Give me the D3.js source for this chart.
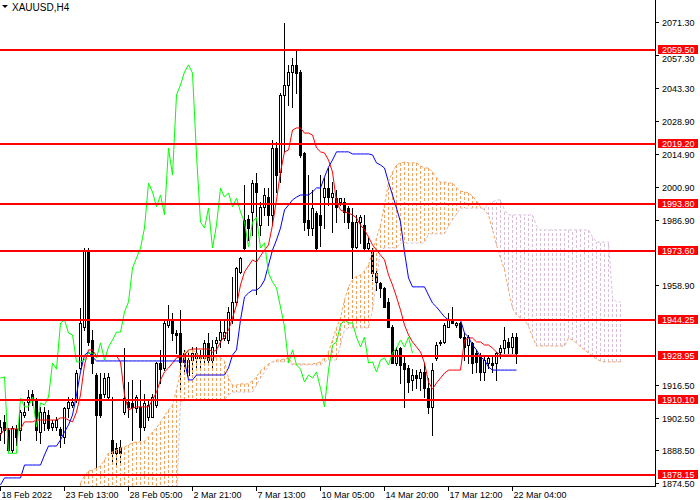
<!DOCTYPE html>
<html><head><meta charset="utf-8">
<script src="https://cdn.jsdelivr.net/npm/d3@7"></script>
<style>
body{margin:0;background:#fff}
svg{display:block}
text{font-family:"Liberation Sans",Arial,sans-serif}
</style>
</head><body>
<svg id="c" width="700" height="500"></svg>
<script>
// ---------------- DATA ----------------
const symbolTitle = "XAUUSD,H4";

const timeTickIndex = [0,16,32,48,64,80,96,112,128];
const timeTickLabels = ["18 Feb 2022","23 Feb 13:00","28 Feb 05:00","2 Mar 21:00","7 Mar 13:00","10 Mar 05:00","14 Mar 20:00","17 Mar 12:00","22 Mar 04:00"];

// visible price scale labels (those fully hidden behind level tags are omitted)
const priceTicks = [2071.30,2057.30,2043.30,2028.90,2014.90,2000.90,1986.90,1958.90,1916.50,1902.50,1888.50,1874.50];

const levels = [2059.50,2019.20,1993.80,1973.60,1944.25,1928.95,1910.10,1878.15];

const open = [1896.0,1900.7,1897.2,1888.7,1897.6,1897.2,1903.6,1909.2,1912.4,1910.0,
 1896.4,1900.2,1903.6,1898.5,1898.5,1897.6,1894.2,1906.6,1907.9,1910.0,
 1923.7,1941.2,1974.0,1935.6,1920.7,1912.4,1912.4,1911.3,1893.0,1889.6,
 1890.0,1904.9,1909.2,1908.8,1906.6,1907.1,1898.5,1902.8,1902.8,1907.9,
 1925.8,1923.7,1942.0,1944.2,1938.6,1938.6,1930.1,1920.7,1927.1,1928.0,
 1929.2,1928.0,1934.4,1927.1,1934.4,1935.6,1936.5,1935.6,1944.2,1951.9,
 1964.7,1986.8,1987.3,1990.3,2002.6,1984.7,1992.4,1996.6,1989.0,2017.5,
 2007.3,2040.2,2044.4,2050.0,2053.0,2050.0,2015.4,1986.8,1983.4,1989.8,
 1989.0,1996.6,2000.5,1996.6,1996.2,1994.5,1994.5,1991.9,1985.9,1975.3,
 1985.9,1984.7,1974.9,1974.0,1964.2,1960.0,1957.8,1951.9,1941.2,1925.8,
 1932.2,1925.8,1923.7,1918.6,1920.7,1919.4,1922.0,1915.0,1907.1,1928.0,
 1934.4,1934.8,1941.2,1944.2,1942.0,1942.9,1936.9,1933.5,1934.4,1930.1,
 1929.2,1922.0,1925.8,1925.8,1925.8,1930.5,1932.2,1934.8,1932.7,1936.9];

const high = [1901.5,1903.6,1898.0,1898.9,1899.4,1905.8,1909.2,1914.3,1914.3,1910.9,
 1907.1,1907.1,1905.8,1901.5,1902.8,1898.5,1907.1,1911.3,1910.9,1922.8,
 1949.3,1974.9,1974.9,1939.9,1921.5,1921.5,1921.5,1921.5,1911.3,1891.7,
 1893.0,1932.2,1917.7,1918.6,1912.2,1918.6,1912.4,1910.0,1912.4,1926.3,
 1931.4,1944.2,1950.6,1947.1,1939.9,1948.4,1931.4,1930.1,1932.7,1932.7,
 1931.4,1935.6,1938.6,1935.6,1936.9,1944.2,1944.2,1949.7,1962.5,1966.8,
 1971.0,2001.8,1989.0,2003.9,2006.9,1994.5,2000.5,2000.5,2020.9,2020.1,
 2041.0,2070.9,2053.0,2055.9,2059.4,2050.8,2015.9,2006.0,1999.6,1990.7,
 2006.0,2004.8,2009.0,2003.0,1999.6,1996.2,1996.2,1992.8,1991.9,1989.0,
 1989.0,1989.0,1979.1,1974.9,1965.5,1960.4,1958.3,1953.6,1942.0,1932.7,
 1932.7,1928.4,1925.0,1923.2,1922.8,1923.2,1925.8,1919.4,1925.8,1934.8,
 1935.6,1942.9,1947.1,1949.7,1943.3,1943.3,1938.6,1937.8,1934.8,1931.4,
 1930.1,1928.4,1929.2,1928.4,1930.5,1933.5,1941.2,1936.5,1938.6,1938.6];

const low = [1893.0,1891.7,1887.8,1887.8,1891.0,1893.0,1902.8,1905.8,1907.9,1893.0,
 1891.7,1897.2,1897.2,1897.2,1897.2,1890.0,1891.7,1902.8,1907.1,1909.2,
 1923.2,1939.9,1933.5,1921.5,1880.2,1902.8,1911.3,1910.0,1882.9,1882.9,
 1882.9,1904.1,1902.8,1893.0,1904.9,1893.0,1897.2,1901.5,1902.8,1907.1,
 1917.3,1922.8,1941.2,1935.6,1930.1,1914.3,1921.5,1919.9,1921.5,1923.7,
 1922.8,1925.8,1925.8,1923.7,1930.1,1932.7,1935.6,1934.4,1942.9,1950.6,
 1964.2,1974.0,1978.3,1980.4,1955.4,1980.4,1989.0,1984.7,1984.7,1998.8,
 2003.0,2015.9,2035.9,2035.0,2041.0,2013.7,1982.6,1980.4,1980.4,1974.0,
 1975.8,1983.4,1993.2,1981.7,1985.9,1993.2,1985.9,1983.4,1962.1,1974.9,
 1977.1,1974.0,1974.0,1961.2,1957.0,1954.0,1949.7,1941.2,1925.8,1925.0,
 1917.3,1907.1,1913.4,1914.3,1915.0,1914.5,1911.3,1904.5,1895.1,1927.1,
 1933.5,1934.4,1941.2,1942.9,1941.2,1936.5,1927.1,1925.8,1921.5,1922.0,
 1918.6,1918.6,1923.7,1922.0,1918.6,1928.0,1930.1,1930.1,1930.1,1925.8];

const close = [1898.5,1897.2,1888.7,1898.0,1894.2,1904.9,1904.9,1911.3,1910.9,1897.2,
 1904.9,1904.9,1898.0,1900.2,1901.5,1895.1,1906.6,1909.2,1909.2,1921.5,
 1942.9,1974.0,1934.8,1925.8,1903.6,1903.6,1919.4,1919.9,1887.3,1887.3,
 1887.3,1910.9,1907.1,1907.1,1911.3,1898.5,1908.8,1907.9,1911.3,1925.8,
 1923.2,1942.9,1944.2,1938.6,1937.8,1926.3,1926.3,1927.1,1930.1,1930.1,
 1928.0,1934.4,1927.1,1932.7,1935.6,1939.0,1939.0,1947.6,1951.9,1966.4,
 1970.6,1974.9,1983.4,2002.6,1998.8,1992.4,1997.5,1989.0,2017.5,2006.0,
 2040.2,2044.4,2050.0,2053.0,2049.5,2014.6,1985.9,1983.4,1991.9,1974.9,
 1984.7,2000.5,1996.6,1998.4,1992.4,1996.2,1990.3,1985.9,1975.3,1985.9,
 1988.1,1974.9,1977.1,1964.2,1960.4,1957.8,1949.7,1941.2,1925.8,1931.4,
 1925.0,1923.2,1917.7,1920.7,1919.4,1922.0,1915.0,1907.1,1922.8,1933.5,
 1934.8,1942.0,1944.2,1942.9,1942.9,1936.9,1932.7,1936.9,1925.8,1926.3,
 1922.0,1927.1,1928.0,1925.0,1930.1,1932.2,1935.6,1932.7,1936.9,1930.1];

// Ichimoku: Tenkan-sen (red)
const tenkan = [1895.1,1897.7,1897.7,1897.7,1897.7,1897.7,1900.7,1900.7,1900.7,1901.5,
 1901.5,1901.5,1901.5,1901.5,1901.5,1902.4,1902.4,1901.5,1900.7,1904.9,
 1912.2,1925.0,1931.4,1931.4,1928.8,1928.8,1928.8,1928.8,1928.8,1928.8,
 1926.3,1912.2,1905.8,1906.6,1907.1,1907.1,1907.1,1907.1,1910.0,1913.4,
 1918.6,1922.0,1923.7,1925.8,1928.0,1928.4,1929.2,1931.4,1931.8,1931.8,
 1931.8,1931.8,1931.8,1930.5,1931.4,1934.8,1937.3,1939.9,1945.0,1950.6,
 1959.1,1964.7,1967.2,1969.8,1968.9,1971.5,1974.0,1976.2,1984.7,1995.4,
 2007.3,2015.9,2016.7,2025.2,2026.1,2026.1,2023.9,2023.9,2023.1,2017.6,
 2015.9,2015.4,2012.4,2007.3,1994.5,1991.1,1990.3,1989.8,1989.0,1987.7,
 1984.7,1982.6,1979.6,1976.2,1974.0,1971.9,1969.8,1963.4,1959.1,1954.0,
 1948.4,1942.0,1937.8,1934.8,1932.7,1930.5,1925.8,1917.7,1914.7,1917.3,
 1919.4,1921.5,1922.8,1922.8,1922.8,1922.8,1935.6,1936.5,1936.5,1934.8,
 1934.8,1933.5,1933.5,1932.2,1930.5,1929.2,1929.2,1929.2,1929.2,1929.2];

// Kijun-sen (blue)
const kijun = [1873.8,1876.8,1876.8,1876.8,1876.8,1876.8,1882.3,1882.3,1882.3,1882.3,
 1882.3,1886.6,1890.4,1890.4,1890.4,1893.0,1896.4,1899.4,1903.6,1912.2,
 1922.0,1929.2,1930.5,1928.4,1926.7,1926.7,1926.7,1926.7,1926.7,1926.7,
 1926.7,1926.7,1926.7,1926.7,1926.7,1926.7,1926.7,1926.7,1926.7,1926.7,
 1926.7,1926.7,1926.7,1926.7,1926.7,1926.7,1926.7,1918.6,1918.6,1920.7,
 1920.7,1920.7,1920.7,1920.7,1920.7,1920.7,1920.7,1923.7,1929.2,1931.4,
 1944.2,1954.0,1955.7,1956.9,1956.9,1958.3,1961.2,1967.6,1974.0,1978.3,
 1983.4,1991.1,1993.2,1995.4,1996.6,1997.5,1997.5,1997.5,1998.8,2000.5,
 2000.5,2005.2,2009.4,2012.4,2015.9,2015.9,2015.9,2015.9,2015.0,2015.0,
 2015.0,2015.0,2015.0,2014.6,2011.2,2010.3,2009.0,2003.0,1997.5,1991.9,
 1986.0,1973.2,1962.1,1958.3,1958.3,1958.3,1958.3,1954.8,1951.4,1949.7,
 1947.6,1945.5,1944.2,1944.2,1944.2,1944.2,1938.6,1936.9,1933.5,1931.4,
 1928.4,1927.1,1924.1,1922.8,1922.8,1922.8,1922.8,1922.8,1922.8,1922.8];

// Chikou span (lime), plotted from the first bar
const chikou = [1919.4,1919.9,1887.3,1887.3,1887.3,1910.9,1907.1,1907.1,1911.3,1898.5,
 1908.8,1907.9,1911.3,1925.8,1923.2,1942.9,1944.2,1938.6,1937.8,1926.3,
 1926.3,1927.1,1930.1,1930.1,1928.0,1934.4,1927.1,1932.7,1935.6,1939.0,
 1939.0,1947.6,1951.9,1966.4,1970.6,1974.9,1983.4,2002.6,1998.8,1992.4,
 1997.5,1989.0,2017.5,2006.0,2040.2,2044.4,2050.0,2053.0,2049.5,2014.6,
 1985.9,1983.4,1991.9,1974.9,1984.7,2000.5,1996.6,1998.4,1992.4,1996.2,
 1990.3,1985.9,1975.3,1985.9,1988.1,1974.9,1977.1,1964.2,1960.4,1957.8,
 1949.7,1941.2,1925.8,1931.4,1925.0,1923.2,1917.7,1920.7,1919.4,1922.0,
 1915.0,1907.1,1922.8,1933.5,1934.8,1942.0,1944.2,1942.9,1942.9,1936.9,
 1932.7,1936.9,1925.8,1926.3,1922.0,1927.1,1928.0,1925.0,1930.1,1932.2,
 1935.6,1932.7,1936.9,1930.1];

// Senkou spans, from bar index cloudStart up to 26 bars past the last candle
const cloudStart = 20;
const spanA = [1874.6,1877.6,1879.7,1880.2,1881.0,1881.9,1884.4,1887.4,1887.9,1888.7,
 1889.6,1890.0,1890.9,1891.7,1892.1,1892.1,1892.5,1894.3,1896.4,1898.1,
 1900.7,1903.2,1905.8,1907.9,1914.3,1922.8,1930.5,1931.4,1931.4,1930.1,
 1928.0,1928.0,1928.0,1928.0,1928.0,1928.0,1926.7,1919.4,1916.4,1916.4,
 1916.9,1916.9,1916.9,1918.2,1919.9,1922.4,1924.1,1925.4,1926.3,1927.1,
 1927.1,1927.5,1928.0,1925.4,1925.4,1925.4,1925.4,1925.4,1925.4,1925.8,
 1926.3,1928.0,1930.5,1935.6,1940.8,1945.0,1952.7,1958.3,1961.2,1962.9,
 1963.4,1965.1,1967.6,1973.2,1979.2,1984.7,1993.2,2003.0,2007.3,2010.3,
 2011.2,2011.6,2011.2,2011.2,2011.2,2009.9,2009.0,2009.0,2007.3,2004.8,
 2003.0,2003.0,2002.6,2002.6,2000.5,1999.2,1998.8,1998.4,1997.1,1994.9,
 1992.4,1991.1,1989.0,1982.6,1976.2,1970.6,1965.5,1957.0,1949.3,1946.3,
 1945.0,1944.2,1941.6,1936.9,1933.1,1933.1,1933.1,1933.1,1933.1,1933.1,
 1933.1,1933.1,1936.5,1935.6,1934.4,1932.7,1931.4,1930.1,1928.8,1927.5,
 1926.7,1926.3,1926.3,1926.3,1926.3,1926.3];
const spanB = [1867.4,1867.4,1867.4,1867.4,1867.4,1867.4,1867.4,1867.4,1867.4,1867.4,
 1867.4,1867.4,1867.4,1867.4,1867.4,1867.4,1867.4,1867.4,1867.4,1867.4,
 1867.4,1867.4,1867.4,1867.4,1867.4,1909.2,1910.0,1910.0,1910.0,1910.0,
 1910.0,1910.0,1910.0,1910.0,1910.0,1910.0,1910.0,1912.2,1913.4,1913.4,
 1913.4,1913.4,1913.4,1913.4,1916.4,1919.4,1922.0,1924.5,1926.3,1926.3,
 1926.3,1926.3,1926.3,1925.0,1925.0,1925.0,1925.0,1925.0,1925.0,1925.0,
 1925.0,1926.3,1927.1,1927.1,1927.1,1933.5,1939.9,1940.8,1940.8,1940.8,
 1940.8,1940.8,1940.8,1948.4,1961.2,1974.0,1974.9,1974.9,1974.9,1974.9,
 1977.0,1977.0,1977.0,1977.0,1977.0,1977.0,1977.0,1980.9,1980.9,1980.9,
 1980.9,1980.9,1984.3,1986.8,1989.4,1991.9,1991.9,1991.9,1991.9,1991.9,
 1991.9,1991.9,1993.7,1994.5,1995.4,1995.4,1991.1,1989.0,1989.0,1989.0,
 1989.0,1989.0,1989.0,1989.0,1984.3,1982.6,1982.6,1982.6,1982.6,1982.6,
 1982.6,1982.6,1982.6,1982.6,1982.6,1982.6,1982.6,1982.6,1979.6,1977.4,
 1977.4,1977.4,1977.4,1953.6,1951.9,1951.9];

// ---------------- CHART ----------------
const svg = d3.select("#c");
const plotW = 656, plotH = 486;
const x = d3.scaleLinear().domain([0, 164]).range([0.5, 656.5]);
const y = d3.scaleLinear().domain([1874.5, 2071.3]).range([483.3, 22]);
const py = v => Math.round(y(v));

svg.append("rect").attr("width",700).attr("height",500).attr("fill","#fff");
const defs = svg.append("defs");
defs.append("clipPath").attr("id","clip")
  .append("rect").attr("x",0).attr("y",0).attr("width",plotW-1).attr("height",plotH);

const plot = svg.append("g").attr("clip-path","url(#clip)");

// candles
const cg = plot.append("g").attr("shape-rendering","crispEdges");
open.forEach((o,i)=>{
  const c = close[i], cx = Math.round(x(i)-0.5);
  const hy = py(high[i]), ly = py(low[i]);
  cg.append("rect").attr("x",cx).attr("y",hy).attr("width",1).attr("height",Math.max(1,ly-hy+1)).attr("fill","#000");
  const top = py(Math.max(o,c)), bot = py(Math.min(o,c));
  const h = Math.max(1, bot-top+1);
  cg.append("rect").attr("x",cx-1).attr("y",top).attr("width",3).attr("height",h).attr("fill","#000");
  if (c > o && h > 2) {
    cg.append("rect").attr("x",cx).attr("y",top+1).attr("width",1).attr("height",h-2).attr("fill","#fff");
  }
});

// cloud hatch
const hg = plot.append("g").attr("shape-rendering","crispEdges");
spanA.forEach((a,k)=>{
  const b = spanB[k], j = k + cloudStart;
  hg.append("line")
    .attr("x1",x(j)).attr("x2",x(j))
    .attr("y1",py(a)).attr("y2",py(b))
    .attr("stroke", a >= b ? "#F4A460" : "#D8BFD8")
    .attr("stroke-width",1).attr("stroke-dasharray","3,2");
});

const lineFrom = (offset) => d3.line().x((d,i)=>x(i+offset)).y(d=>y(d));
const lg = plot.append("g").attr("fill","none").attr("stroke-width",1);
lg.append("path").attr("d",lineFrom(0)(tenkan)).attr("stroke","#FF0000");
lg.append("path").attr("d",lineFrom(0)(kijun)).attr("stroke","#0000FF");
lg.append("path").attr("d",lineFrom(cloudStart)(spanA)).attr("stroke","#F4A460").attr("stroke-dasharray","3,2");
lg.append("path").attr("d",lineFrom(cloudStart)(spanB)).attr("stroke","#D8BFD8").attr("stroke-dasharray","3,2");
lg.append("path").attr("d",lineFrom(0)(chikou)).attr("stroke","#00FF00");

// horizontal levels
const hl = svg.append("g").attr("shape-rendering","crispEdges");
levels.forEach(v=>{
  const yy = py(v);
  hl.append("rect").attr("x",0).attr("y",yy-1).attr("width",plotW).attr("height",2).attr("fill","#FF0000");
});

// axes frame
const ax = svg.append("g").attr("shape-rendering","crispEdges");
ax.append("line").attr("x1",655.5).attr("x2",655.5).attr("y1",0).attr("y2",487).attr("stroke","#000");
ax.append("line").attr("x1",0).attr("x2",656).attr("y1",486.5).attr("y2",486.5).attr("stroke","#000");

// price axis (labels nudged clear of the level tags)
const tagTop = v => py(v) - 5, tagBot = v => py(v) + 4;
priceTicks.forEach(v=>{
  const yy = py(v);
  ax.append("line").attr("x1",656).attr("x2",659).attr("y1",yy+0.5).attr("y2",yy+0.5).attr("stroke","#000");
  let base = yy + 3.5;
  levels.forEach(l=>{
    const t = tagTop(l), b = tagBot(l);
    if (base - 8 < b && base + 2 > t) {
      base = (yy >= py(l)) ? b + 8.2 : t - 2.2;
    }
  });
  svg.append("text").attr("x",662).attr("y",base).attr("font-size",9).attr("fill","#000").text(d3.format(".2f")(v));
});

// level labels
levels.forEach(v=>{
  const yy = py(v);
  svg.append("rect").attr("x",658).attr("y",yy-5).attr("width",40).attr("height",9).attr("fill","#FF0000").attr("shape-rendering","crispEdges");
  svg.append("text").attr("x",662).attr("y",yy+3.3).attr("font-size",9).attr("fill","#fff").text(d3.format(".2f")(v));
});

// time axis
timeTickIndex.forEach((t,k)=>{
  const xx = Math.round(x(t)-0.5)+0.5;
  ax.append("line").attr("x1",xx).attr("x2",xx).attr("y1",486).attr("y2",491).attr("stroke","#000");
  svg.append("text").attr("x",xx+1).attr("y",498).attr("font-size",9).attr("fill","#000").text(timeTickLabels[k]);
});

// title
svg.append("path").attr("d","M2,5 L8,5 L5,8 Z").attr("fill","#000");
svg.append("text").attr("x",12).attr("y",11).attr("font-size",10).attr("fill","#000").text(symbolTitle);
</script>
</body></html>
